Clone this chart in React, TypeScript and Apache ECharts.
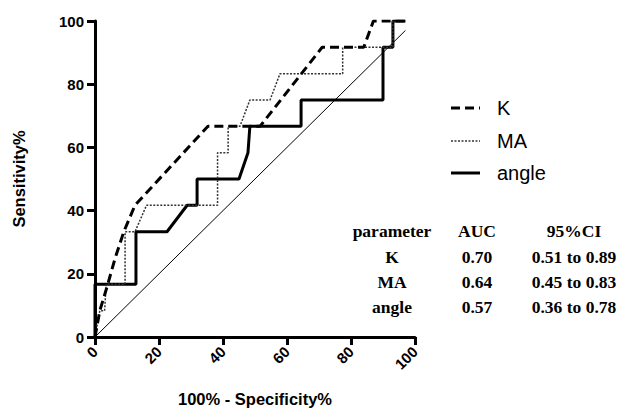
import React, { useEffect, useRef } from "react";
import * as echarts from "echarts";

const xTicks = [0, 20, 40, 60, 80, 100];
const yTicks = [0, 20, 40, 60, 80, 100];

const kPoints: number[][] = [
  [0, 0], [1.5, 8.3], [4, 16.7], [6.3, 25], [9, 33.3], [12.5, 41.7],
  [35.3, 66.7], [51.6, 66.7], [71, 91.7], [84, 91.7], [87, 100], [97, 100],
];
const maPoints: number[][] = [
  [0, 0], [1.5, 8.3], [3, 8.3], [3.5, 16.7], [9.4, 16.7], [9.4, 33.3],
  [12.5, 33.3], [16.1, 41.7], [38.3, 41.7], [38.3, 58.3], [41.6, 58.3],
  [41.6, 66.7], [45.3, 66.7], [48.4, 75], [54.7, 75], [57.8, 83.3],
  [77.4, 83.3], [77.4, 91.7], [93.1, 91.7], [93.1, 100], [97, 100],
];
const anglePoints: number[][] = [
  [0, 0], [0, 16.7], [12.8, 16.7], [12.8, 33.3], [22.5, 33.3], [28.8, 41.7],
  [31.9, 41.7], [31.9, 50], [45, 50], [47.8, 58.3], [48.4, 66.7],
  [64.4, 66.7], [64.4, 75], [90, 75], [90, 91.7], [93.1, 91.7], [93.1, 100], [97, 100],
];
const diagonal: number[][] = [[0, 0], [97, 97]];

const legendNames = ["K", "MA", "angle"];
const tableHeader = ["parameter", "AUC", "95%CI"];
const tableParams = ["K", "MA", "angle"];
const tableAUC = ["0.70", "0.64", "0.57"];
const tableCI = ["0.51 to 0.89", "0.45 to 0.83", "0.36 to 0.78"];

export default function App() {
  const ref = useRef<HTMLDivElement>(null);
  useEffect(() => {
    if (!ref.current) return;
    document.body.style.margin = "0";
    const chart = echarts.init(ref.current, null, { renderer: "svg" });
    const sans = "Liberation Sans, Arial, sans-serif";
    const serif = "Liberation Serif, Times New Roman, serif";
    const styles = [
      { stroke: "#000", lineWidth: 3, lineDash: [9, 5] },
      { stroke: "#333", lineWidth: 1.5, lineDash: [2, 1.5] },
      { stroke: "#000", lineWidth: 3 },
    ];
    const colX = [392, 477, 574];
    const rowY = [231, 257, 282, 307];
    const graphics: any[] = [];
    const legendY = [108, 141, 173];
    legendNames.forEach((n, i) => {
      graphics.push({ type: "line", shape: { x1: 451, y1: legendY[i], x2: 480, y2: legendY[i] }, style: styles[i] });
      graphics.push({ type: "text", x: 497, y: legendY[i], style: { text: n, font: `20px ${sans}`, fill: "#000", textAlign: "left", textVerticalAlign: "middle" } });
    });
    tableHeader.forEach((t, i) =>
      graphics.push({ type: "text", x: colX[i], y: rowY[0], style: { text: t, font: `bold 17.5px ${serif}`, fill: "#000", textAlign: "center", textVerticalAlign: "middle" } })
    );
    tableParams.forEach((p, r) => {
      const vals = [p, tableAUC[r], tableCI[r]];
      vals.forEach((t, i) =>
        graphics.push({ type: "text", x: colX[i], y: rowY[r + 1], style: { text: t, font: `bold 17.5px ${serif}`, fill: "#000", textAlign: "center", textVerticalAlign: "middle" } })
      );
    });
    const axisCommon = {
      type: "value",
      min: 0,
      max: 100,
      interval: 20,
      axisLine: { show: true, lineStyle: { color: "#000", width: 3 } },
      axisTick: { show: true, length: 8, lineStyle: { color: "#000", width: 3 } },
      splitLine: { show: false },
      nameTextStyle: { fontFamily: sans, fontWeight: "bold", fontSize: 16.5, color: "#000" },
    };
    chart.setOption({
      animation: false,
      backgroundColor: "#fff",
      grid: { left: 95, right: 206, top: 21, bottom: 71, outerBoundsMode: "none", containLabel: false },
      xAxis: {
        ...axisCommon,
        name: "100% - Specificity%",
        nameLocation: "middle",
        nameGap: 53,
        axisLabel: { rotate: 45, fontFamily: sans, fontWeight: "bold", fontSize: 15, color: "#000", margin: 12,
          formatter: (v: number) => (xTicks.includes(v) ? String(v) : "") },
      },
      yAxis: {
        ...axisCommon,
        name: "Sensitivity%",
        nameLocation: "middle",
        nameGap: 68,
        axisLabel: { fontFamily: sans, fontWeight: "bold", fontSize: 15, color: "#000", margin: 11,
          formatter: (v: number) => (yTicks.includes(v) ? String(v) : "") },
      },
      series: [
        { name: "diag", type: "line", data: diagonal, symbol: "none", lineStyle: { color: "#000", width: 1 }, silent: true },
        { name: "angle", type: "line", data: anglePoints, symbol: "none", lineStyle: { color: "#000", width: 3 } },
        { name: "MA", type: "line", data: maPoints, symbol: "none", lineStyle: { color: "#333", width: 1.5, type: [2, 1.5] } },
        { name: "K", type: "line", data: kPoints, symbol: "none", lineStyle: { color: "#000", width: 3, type: [9, 5] } },
      ],
      graphic: graphics,
    });
    return () => chart.dispose();
  }, []);
  return <div ref={ref} style={{ width: 621, height: 408 }} />;
}
